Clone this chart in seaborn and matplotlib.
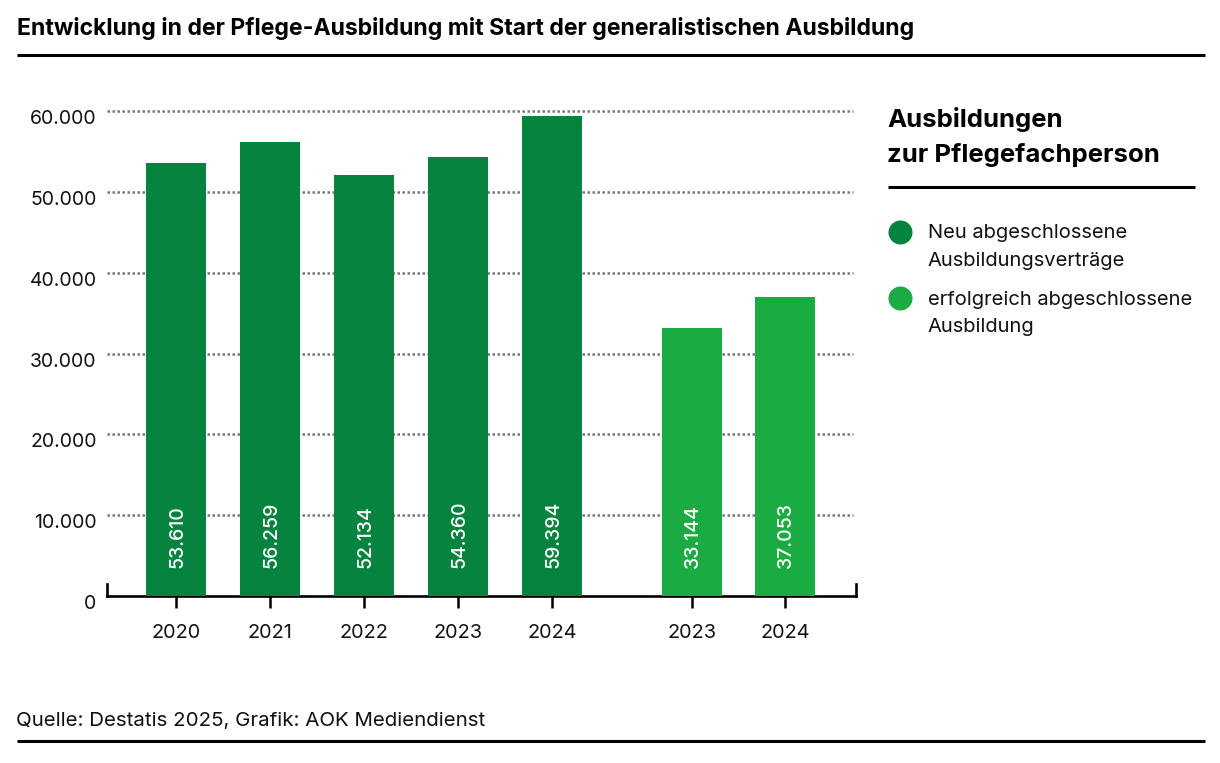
import numpy as np
import pandas as pd
import matplotlib
matplotlib.use("Agg")
import matplotlib.pyplot as plt
from matplotlib.lines import Line2D
from matplotlib.transforms import ScaledTranslation
import seaborn as sns

years_new = ["2020", "2021", "2022", "2023", "2024"]
values_new = [53610, 56259, 52134, 54360, 59394]
years_done = ["2023", "2024"]
values_done = [33144, 37053]
value_labels_new = ["53.610", "56.259", "52.134", "54.360", "59.394"]
value_labels_done = ["33.144", "37.053"]
y_ticks = [0, 10000, 20000, 30000, 40000, 50000, 60000]
y_tick_labels = ["0", "10.000", "20.000", "30.000", "40.000", "50.000", "60.000"]
series_names = ["Neu abgeschlossene\nAusbildungsverträge", "erfolgreich abgeschlossene\nAusbildung"]
title = "Entwicklung in der Pflege-Ausbildung mit Start der generalistischen Ausbildung"
legend_title = "Ausbildungen\nzur Pflegefachperson"
source = "Quelle: Destatis 2025, Grafik: AOK Mediendienst"
DARK, LIGHT = "#06843F", "#1AAB42"

W, H = 1220, 763
sns.set_theme(style="white", rc={"font.family": "Inter"})
fig = plt.figure(figsize=(W / 100, H / 100), dpi=100, facecolor="white")
ax = fig.add_axes([107 / W, 1 - 596 / H, (856 - 107) / W, (596 - 111.4) / H])

pos_new = np.arange(len(values_new), dtype=float)
pos_done = 5.49 + 0.99 * np.arange(len(values_done))
df = pd.DataFrame({
    "pos": np.concatenate([pos_new, pos_done]),
    "value": values_new + values_done,
    "series": [series_names[0]] * 5 + [series_names[1]] * 2,
})
sns.barplot(data=df, x="pos", y="value", hue="series", native_scale=True, dodge=False,
            palette=[DARK, LIGHT], width=60 / 93, saturation=1, legend=False,
            linewidth=0, ax=ax, zorder=3)

ax.set_xlim(-(176 - 107) / 94, -(176 - 107) / 94 + (856 - 107) / 94)
ax.set_ylim(0, 60000)
ax.set_xlabel("")
ax.set_ylabel("")

ax.spines["top"].set_visible(False)
for s in ["left", "right"]:
    ax.spines[s].set_linewidth(1.9)
    ax.spines[s].set_color("black")
    ax.spines[s].set_bounds(0, 1450)
ax.spines["bottom"].set_linewidth(1.9)
ax.spines["bottom"].set_color("black")

ax.set_xticks(df["pos"].to_numpy())
ax.set_xticklabels(years_new + years_done, fontsize=14.3, color="#111111")
ax.tick_params(axis="x", length=8.5, width=1.8, color="black", pad=12, bottom=True)
ax.set_yticks(y_ticks)
ax.set_yticklabels(y_tick_labels, fontsize=14, color="#111111")
ax.tick_params(axis="y", length=0, pad=7.5, left=False)
shift = ScaledTranslation(0, -6 / 100, fig.dpi_scale_trans)
for lab in ax.get_yticklabels():
    lab.set_transform(lab.get_transform() + shift)

for v in y_ticks[1:]:
    ax.plot([ax.get_xlim()[0], ax.get_xlim()[1] - 3 / 94], [v, v], color="#777777", lw=1.8,
            ls=(0, (1.0, 1.0)), zorder=1, clip_on=False)

for x, lab in zip(df["pos"], value_labels_new + value_labels_done):
    ax.annotate(lab, (x, 0), xytext=(0.8, 20), textcoords="offset points",
                rotation=90, ha="center", va="bottom", color="white", fontsize=14,
                fontweight="medium", zorder=5)


def px(x, y):
    return x / W, 1 - y / H


def rule(x0, x1, y):
    fig.add_artist(Line2D([x0 / W, x1 / W], [1 - y / H] * 2, color="black", lw=2.2,
                          solid_capstyle="butt"))


fig.text(*px(17, 29), title, fontsize=16.57, fontweight="bold", color="black", va="center", ha="left")
rule(17, 1205, 55)
rule(17, 1205, 741)
rule(888, 1195, 187)
fig.text(*px(16, 721), source, fontsize=14.75, color="#111111", va="center", ha="left")
for line, y in zip(legend_title.split("\n"), [119, 155]):
    fig.text(*px(887.5, y), line, fontsize=18.5, fontweight="bold", color="black", va="center")

for name, color, y in zip(series_names, [DARK, LIGHT], [232, 298]):
    fig.add_artist(Line2D([900 / W], [1 - y / H], marker="o", ls="", color=color,
                          markersize=17.3, markeredgewidth=0))
    for i, line in enumerate(name.split("\n")):
        fig.text(*px(927.5, y + 1.5 + 27 * i), line, fontsize=14.5, color="#111111", va="center")

fig.savefig("out.png", dpi=100, facecolor="white")
